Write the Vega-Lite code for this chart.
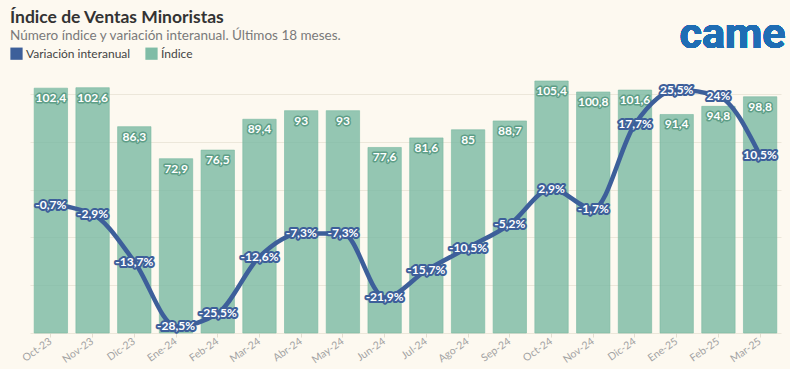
{
  "$schema": "https://vega.github.io/schema/vega-lite/v6.json",
  "autosize": {"type": "none"},
  "width": 751,
  "height": 263,
  "padding": {"left": 30, "top": 70, "right": 9, "bottom": 36},
  "background": "#fdf9f0",
  "title": {
    "text": "Índice de Ventas Minoristas",
    "subtitle": "Número índice y variación interanual. Últimos 18 meses.",
    "anchor": "start",
    "frame": "group",
    "dx": -20,
    "offset": -28,
    "font": "Lato",
    "fontSize": 17.5,
    "fontWeight": "bold",
    "color": "#333333",
    "subtitleFont": "Lato",
    "subtitleFontSize": 13.5,
    "subtitleColor": "#7a7a7a",
    "subtitlePadding": 2
  },
  "data": {
    "values": [
      {"mes": "Oct-23", "indice": 102.4, "var": -0.7, "ilab": "102,4", "vlab": "-0,7%"},
      {"mes": "Nov-23", "indice": 102.6, "var": -2.9, "ilab": "102,6", "vlab": "-2,9%"},
      {"mes": "Dic-23", "indice": 86.3, "var": -13.7, "ilab": "86,3", "vlab": "-13,7%"},
      {"mes": "Ene-24", "indice": 72.9, "var": -28.5, "ilab": "72,9", "vlab": "-28,5%"},
      {"mes": "Feb-24", "indice": 76.5, "var": -25.5, "ilab": "76,5", "vlab": "-25,5%"},
      {"mes": "Mar-24", "indice": 89.4, "var": -12.6, "ilab": "89,4", "vlab": "-12,6%"},
      {"mes": "Abr-24", "indice": 93, "var": -7.3, "ilab": "93", "vlab": "-7,3%"},
      {"mes": "May-24", "indice": 93, "var": -7.3, "ilab": "93", "vlab": "-7,3%"},
      {"mes": "Jun-24", "indice": 77.6, "var": -21.9, "ilab": "77,6", "vlab": "-21,9%"},
      {"mes": "Jul-24", "indice": 81.6, "var": -15.7, "ilab": "81,6", "vlab": "-15,7%"},
      {"mes": "Ago-24", "indice": 85, "var": -10.5, "ilab": "85", "vlab": "-10,5%"},
      {"mes": "Sep-24", "indice": 88.7, "var": -5.2, "ilab": "88,7", "vlab": "-5,2%"},
      {"mes": "Oct-24", "indice": 105.4, "var": 2.9, "ilab": "105,4", "vlab": "2,9%"},
      {"mes": "Nov-24", "indice": 100.8, "var": -1.7, "ilab": "100,8", "vlab": "-1,7%"},
      {"mes": "Dic-24", "indice": 101.6, "var": 17.7, "ilab": "101,6", "vlab": "17,7%"},
      {"mes": "Ene-25", "indice": 91.4, "var": 25.5, "ilab": "91,4", "vlab": "25,5%"},
      {"mes": "Feb-25", "indice": 94.8, "var": 24, "ilab": "94,8", "vlab": "24%"},
      {"mes": "Mar-25", "indice": 98.8, "var": 10.5, "ilab": "98,8", "vlab": "10,5%"}
    ]
  },
  "encoding": {
    "x": {
      "field": "mes",
      "type": "ordinal",
      "sort": null,
      "scale": {"paddingInner": 0.2, "paddingOuter": 0.1},
      "axis": {
        "title": null,
        "labelAngle": -35,
        "labelAlign": "right",
        "labelBaseline": "middle",
        "labelColor": "#a3a3a3",
        "labelFont": "Lato",
        "labelFontSize": 10.5,
        "labelPadding": 3,
        "domain": false,
        "ticks": true,
        "tickColor": "#e3ddcf",
        "tickSize": 4,
        "grid": false
      }
    }
  },
  "layer": [
    {
      "layer": [
        {
          "mark": {"type": "bar", "fill": "#79b9a2", "fillOpacity": 0.8, "stroke": "#79b9a2", "strokeOpacity": 0.6, "strokeWidth": 1},
          "encoding": {
            "y": {
              "field": "indice",
              "type": "quantitative",
              "scale": {"domain": [0, 110], "nice": false},
              "axis": {
                "title": null,
                "labels": false,
                "ticks": false,
                "domain": false,
                "grid": true,
                "gridColor": "#ece7da",
                "gridWidth": 1,
                "values": [0, 10, 20, 30, 40, 50, 60, 70, 80, 90, 100, 110]
              }
            },
            "color": {
              "datum": "Índice",
              "scale": {"domain": ["Variación interanual", "Índice"], "range": ["#3d5f9a", "#7fbca6"]},
              "legend": {
                "title": null,
                "orient": "none",
                "legendX": -20,
                "legendY": -23,
                "direction": "horizontal",
                "symbolType": "square",
                "symbolSize": 150,
                "symbolStrokeWidth": 0,
                "labelFont": "Lato",
                "labelFontSize": 12,
                "labelColor": "#444444",
                "columnPadding": 14,
                "labelOffset": 3
              }
            }
          }
        },
        {
          "mark": {"type": "text", "font": "Lato", "fontSize": 12, "fontWeight": "bold", "baseline": "middle", "dy": 10, "stroke": "#5e9e87", "strokeWidth": 3, "strokeJoin": "round", "fill": "#5e9e87"},
          "encoding": {
            "y": {"field": "indice", "type": "quantitative"},
            "text": {"field": "ilab"}
          }
        },
        {
          "mark": {"type": "text", "font": "Lato", "fontSize": 12, "fontWeight": "bold", "baseline": "middle", "dy": 10, "fill": "#ffffff"},
          "encoding": {
            "y": {"field": "indice", "type": "quantitative"},
            "text": {"field": "ilab"}
          }
        },
        {
          "mark": {"type": "text", "font": "Roboto", "fontSize": 43, "fontWeight": "bold", "fill": "#1f6db4", "baseline": "alphabetic", "align": "center", "dx": 14, "clip": false, "letterSpacing": -4},
          "encoding": {
            "x": {"datum": "Feb-25"},
            "y": {"datum": 119},
            "text": {"value": "came"}
          }
        }
      ]
    },
    {
      "layer": [
        {
          "mark": {"type": "line", "interpolate": "monotone", "stroke": "#3d5f9a", "strokeWidth": 4.5},
          "encoding": {
            "y": {"field": "var", "type": "quantitative", "scale": {"domain": [-30, 30], "nice": false}, "axis": null}
          }
        },
        {
          "mark": {"type": "text", "font": "Lato", "fontSize": 12, "fontWeight": "bold", "baseline": "middle", "stroke": "#3d5f9a", "strokeWidth": 4, "strokeJoin": "round", "fill": "#3d5f9a"},
          "encoding": {
            "y": {"field": "var", "type": "quantitative"},
            "text": {"field": "vlab"}
          }
        },
        {
          "mark": {"type": "text", "font": "Lato", "fontSize": 12, "fontWeight": "bold", "baseline": "middle", "fill": "#ffffff"},
          "encoding": {
            "y": {"field": "var", "type": "quantitative"},
            "text": {"field": "vlab"}
          }
        }
      ]
    }
  ],
  "resolve": {"scale": {"y": "independent"}},
  "config": {"view": {"stroke": null}}
}
